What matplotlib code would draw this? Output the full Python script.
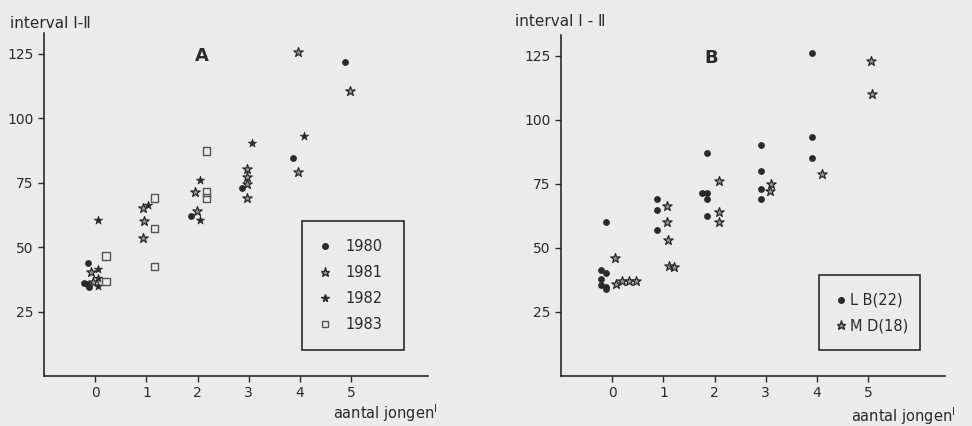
import matplotlib.pyplot as plt
from matplotlib.patches import Rectangle
from matplotlib.lines import Line2D

plt.rcParams['font.family'] = ['DejaVu Sans']

# panel A: interval I-II per year (x = number of young, slightly shifted per year)
x_1980 = [-0.15, -0.22, -0.12, -0.17, 1.87, 2.86, 3.87, 4.88]
y_1980 = [43.7, 36.2, 34.4, 35.5, 62.0, 73.0, 84.5, 121.6]
x_1981 = [-0.08, -0.05, 0.94, 0.96, 0.94, 1.95, 1.99, 2.96, 2.96, 2.97, 2.96, 3.96, 3.96, 4.98]
y_1981 = [40.2, 36.6, 65.0, 60.0, 53.6, 71.2, 64.0, 80.2, 77.0, 74.6, 69.2, 125.7, 79.0, 110.4]
x_1982 = [0.05, 0.05, 0.05, 0.05, 1.04, 2.05, 2.05, 3.07, 4.07]
y_1982 = [60.4, 41.3, 37.9, 34.9, 66.3, 76.2, 60.4, 90.2, 93.0]
x_1983 = [0.21, 0.21, 1.16, 1.16, 1.16, 2.18, 2.18, 2.18]
y_1983 = [46.5, 36.6, 69.0, 57.2, 42.4, 87.2, 71.4, 69.0]

# panel B: two females
x_lb = [-0.12, -0.22, -0.12, -0.22, -0.22, -0.12, -0.12,
        0.87, 0.87, 0.87,
        1.85, 1.75, 1.85, 1.85, 1.85,
        2.9, 2.9, 2.9, 2.9,
        3.9, 3.9, 3.9]
y_lb = [60.0, 41.3, 40.0, 37.9, 35.7, 34.9, 34.0,
        69.1, 64.7, 57.0,
        87.0, 71.4, 71.4, 69.1, 62.4,
        90.2, 80.1, 73.1, 69.1,
        126.0, 93.4, 85.0]
x_md = [0.06, 0.07, 0.19, 0.32, 0.46,
        1.07, 1.07, 1.08, 1.1, 1.2,
        2.08, 2.08, 2.08,
        3.1, 3.08,
        4.1,
        5.06, 5.08]
y_md = [45.9, 36.0, 37.0, 37.2, 37.2,
        66.5, 60.1, 53.2, 43.0, 42.4,
        76.0, 64.0, 60.0,
        75.0, 72.0,
        79.0,
        122.9, 110.2]

x_ticks = [0, 1, 2, 3, 4, 5]
y_ticks = [25, 50, 75, 100, 125]

ink = '#2a2a2a'
paper = '#ebebeb'

fig = plt.figure(figsize=(9.72, 4.26), dpi=100, facecolor=paper)
axA = fig.add_axes([0.0453, 0.1174, 0.395, 0.805])
axB = fig.add_axes([0.5772, 0.1174, 0.395, 0.800])

dot = dict(marker='o', s=24, color=ink, linewidths=0)
star_open = dict(marker='*', s=50, facecolor='#9a9a9a', edgecolor=ink, linewidths=0.9)
star_full = dict(marker='*', s=40, facecolor=ink, edgecolor=ink, linewidths=0.5)
square = dict(marker='s', s=28, facecolor='none', edgecolor='#555555', linewidths=1.0)

axA.scatter(x_1980, y_1980, **dot)
axA.scatter(x_1981, y_1981, **star_open)
axA.scatter(x_1982, y_1982, **star_full)
axA.scatter(x_1983, y_1983, **square)

axB.scatter(x_lb, y_lb, **dot)
axB.scatter(x_md, y_md, **star_open)

for ax in (axA, axB):
    ax.set_facecolor(paper)
    ax.set_xlim(-1.0, 6.5)
    ax.set_ylim(0, 133)
    ax.set_xticks(x_ticks)
    ax.set_yticks(y_ticks)
    for s in ('top', 'right'):
        ax.spines[s].set_visible(False)
    for s in ('left', 'bottom'):
        ax.spines[s].set_color(ink)
        ax.spines[s].set_linewidth(1.2)
    ax.tick_params(colors=ink, labelsize=10, length=4, width=1.0, direction='out')

axA.text(0.41, 0.96, 'A', transform=axA.transAxes, fontsize=13, fontweight='bold',
         color=ink, ha='center', va='top')
axB.text(0.39, 0.96, 'B', transform=axB.transAxes, fontsize=13, fontweight='bold',
         color=ink, ha='center', va='top')

fig.text(0.010, 0.945, 'interval I-Ⅱ', fontsize=11, color=ink, ha='left', va='center')
fig.text(0.530, 0.950, 'interval I - Ⅱ', fontsize=11, color=ink, ha='left', va='center')
fig.text(0.343, 0.030, 'aantal jongen$^{\\mathregular{I}}$', fontsize=10.5, color=ink,
         ha='left', va='center')
fig.text(0.876, 0.022, 'aantal jongen$^{\\mathregular{I}}$', fontsize=10.5, color=ink,
         ha='left', va='center')

# legend boxes
axA.add_patch(Rectangle((0.671, 0.076), 0.266, 0.376, transform=axA.transAxes,
                        fill=False, edgecolor=ink, linewidth=1.2))
hA = [Line2D([], [], linestyle='none', marker='o', ms=4, color=ink),
      Line2D([], [], linestyle='none', marker='*', ms=6.5, mfc='#9a9a9a', mec=ink),
      Line2D([], [], linestyle='none', marker='*', ms=5.5, color=ink),
      Line2D([], [], linestyle='none', marker='s', ms=4.5, mfc='none', mec='#555555')]
legA = axA.legend(hA, ['1980', '1981', '1982', '1983'], frameon=False, fontsize=10.5,
                  loc='upper left', bbox_to_anchor=(0.695, 0.42), handlelength=1.0,
                  handletextpad=0.85, labelspacing=0.75, borderpad=0)
for t in legA.get_texts():
    t.set_color(ink)

axB.add_patch(Rectangle((0.671, 0.076), 0.265, 0.22, transform=axB.transAxes,
                        fill=False, edgecolor=ink, linewidth=1.2))
hB = [Line2D([], [], linestyle='none', marker='o', ms=4, color=ink),
      Line2D([], [], linestyle='none', marker='*', ms=6.5, mfc='#9a9a9a', mec=ink)]
legB = axB.legend(hB, ['L B(22)', 'M D(18)'], frameon=False, fontsize=10.5,
                  loc='upper left', bbox_to_anchor=(0.70, 0.265), handlelength=0.6,
                  handletextpad=0.3, labelspacing=0.7, borderpad=0)
for t in legB.get_texts():
    t.set_color(ink)

fig.savefig('out.png', dpi=100, facecolor=paper)
